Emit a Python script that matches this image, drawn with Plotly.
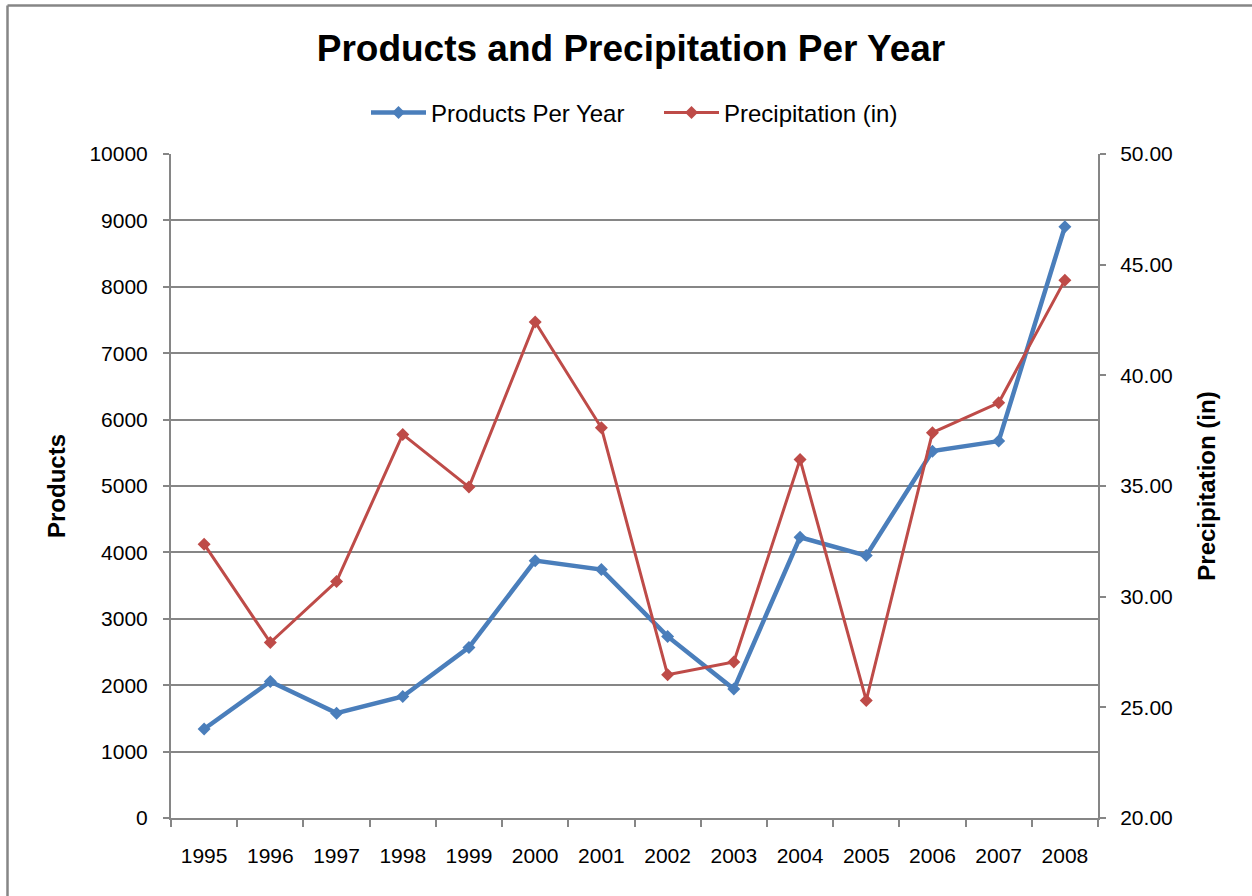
import plotly.graph_objects as go

years = ["1995", "1996", "1997", "1998", "1999", "2000", "2001",
         "2002", "2003", "2004", "2005", "2006", "2007", "2008"]
products = [1340, 2056, 1579, 1830, 2569, 3876, 3741,
            2735, 1941, 4228, 3952, 5525, 5676, 8904]
precipitation = [32.37, 27.93, 30.69, 37.33, 34.95, 42.41, 37.63,
                 26.47, 27.05, 36.20, 25.31, 37.41, 38.76, 44.30]

FONT = "Arial, Liberation Sans, sans-serif"
GRID = "#868686"
BLUE = "#4A7EBB"
RED = "#BE4B48"

W, H = 1252, 896
L, R, T, B = 171, 154, 154, 78
PW, PH = W - L - R, H - T - B


def px_x(x):
    return (x - L) / PW


def px_y(y):
    return (H - B - y) / PH


fig = go.Figure()
fig.add_trace(go.Scatter(
    x=years, y=products, name="Products Per Year", mode="lines+markers",
    line=dict(color=BLUE, width=4.5),
    marker=dict(symbol="diamond", size=10, color=BLUE),
    yaxis="y",
))
fig.add_trace(go.Scatter(
    x=years, y=precipitation, name="Precipitation (in)", mode="lines+markers",
    line=dict(color=RED, width=3),
    marker=dict(symbol="diamond", size=10, color=RED),
    yaxis="y2",
))

fig.update_layout(
    width=W, height=H,
    margin=dict(l=L, r=R, t=T, b=B),
    paper_bgcolor="white", plot_bgcolor="white",
    font=dict(family=FONT, size=21, color="black"),
    title=dict(text="<b>Products and Precipitation Per Year</b>",
               x=631 / W, xanchor="center", xref="container",
               y=1 - 48 / H, yanchor="middle", yref="container",
               font=dict(size=37, family=FONT, color="black")),
    legend=dict(orientation="h", x=px_x(366), xanchor="left",
                y=px_y(113), yanchor="middle",
                font=dict(size=24, family=FONT), itemwidth=55,
                entrywidth=223,
                traceorder="normal", bgcolor="rgba(0,0,0,0)"),
    showlegend=True,
    xaxis=dict(type="category", range=[-0.5, 13.5], showgrid=False,
               showline=True, linecolor=GRID, linewidth=2,
               ticks="outside", tickson="boundaries", ticklen=7,
               tickcolor=GRID, tickwidth=2, tickfont=dict(size=21),
               ticklabelstandoff=18, fixedrange=True),
    yaxis=dict(range=[0, 10000], dtick=1000, tickformat="d", showgrid=True,
               gridcolor=GRID, gridwidth=1.5, zeroline=False,
               showline=True, linecolor=GRID, linewidth=2,
               ticks="outside", ticklen=6, tickcolor=GRID, tickwidth=2,
               tickfont=dict(size=21), ticklabelstandoff=11,
               title=dict(text="<b>Products</b>", font=dict(size=24),
                          standoff=17)),
    yaxis2=dict(range=[20, 50], dtick=5, tickformat=".2f", overlaying="y",
                side="right", showgrid=False, zeroline=False,
                showline=True, linecolor=GRID, linewidth=2,
                ticks="outside", ticklen=6, tickcolor=GRID, tickwidth=2,
                tickfont=dict(size=21), ticklabelstandoff=10,
                title=dict(text="<b>Precipitation (in)</b>",
                           font=dict(size=24), standoff=26)),
    shapes=[
        dict(type="line", xref="paper", yref="paper",
             x0=px_x(7.5), x1=px_x(W + 10), y0=px_y(5.5), y1=px_y(5.5),
             line=dict(color=GRID, width=2.5)),
        dict(type="line", xref="paper", yref="paper",
             x0=px_x(7.5), x1=px_x(7.5), y0=px_y(5.5), y1=px_y(H + 10),
             line=dict(color=GRID, width=2.5)),
    ],
)

fig.write_html("out.html")
